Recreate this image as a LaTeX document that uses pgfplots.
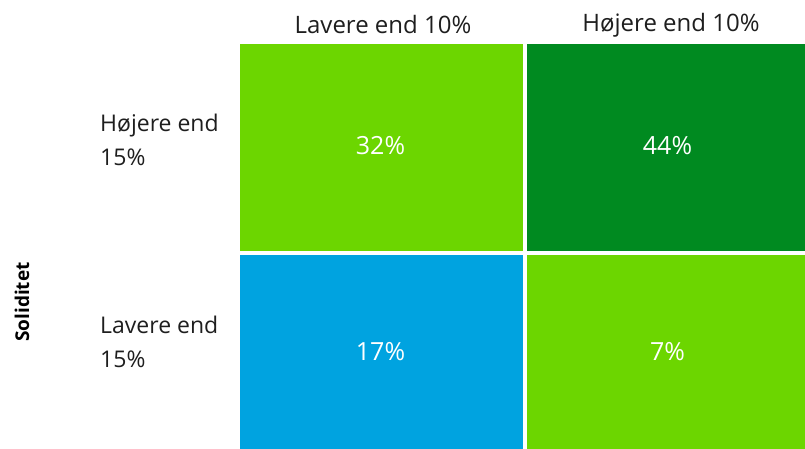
\documentclass[border=0pt]{standalone}
\usepackage{pgfplots}
\pgfplotsset{compat=1.18}
\usepackage{fontspec}
\setmainfont{Open Sans}
\definecolor{lgreen}{RGB}{108,214,0}
\definecolor{dgreen}{RGB}{0,138,32}
\definecolor{cblue}{RGB}{0,163,224}
\definecolor{txt}{RGB}{30,30,30}
\begin{document}
\begin{tikzpicture}[x=1pt,y=1pt]
\useasboundingbox (0,0) rectangle (805,448);
\begin{axis}[
  at={(240pt,0pt)}, anchor=south west,
  scale only axis, width=565pt, height=404pt,
  xmin=0, xmax=1.9686, ymin=0, ymax=1.9147,
  y dir=reverse, hide axis, clip=true,
]
% cells: column x, row y; each cell is 283/287 wide and 207/211 tall
\addplot[fill=lgreen, draw=none] coordinates {(0,0) (0.98606,0) (0.98606,0.98104) (0,0.98104)} -- cycle;
\addplot[fill=dgreen, draw=none] coordinates {(1,0) (1.98606,0) (1.98606,0.98104) (1,0.98104)} -- cycle;
\addplot[fill=cblue, draw=none] coordinates {(0,1) (0.98606,1) (0.98606,1.98104) (0,1.98104)} -- cycle;
\addplot[fill=lgreen, draw=none] coordinates {(1,1) (1.98606,1) (1.98606,1.98104) (1,1.98104)} -- cycle;
\node[text=white, font=\fontsize{25}{30}\selectfont] at (axis cs:0.4895,0.483) {32\%};
\node[text=white, font=\fontsize{25}{30}\selectfont] at (axis cs:1.4895,0.483) {44\%};
\node[text=white, font=\fontsize{25}{30}\selectfont] at (axis cs:0.4895,1.460) {17\%};
\node[text=white, font=\fontsize{25}{30}\selectfont] at (axis cs:1.4895,1.460) {7\%};
\end{axis}
\node[text=txt, font=\fontsize{24}{28}\selectfont] at (383,423) {Lavere end 10\%};
\node[text=txt, font=\fontsize{24}{28}\selectfont] at (671,423) {Højere end 10\%};
\node[text=txt, font=\fontsize{23}{34}\selectfont, anchor=west, align=left, inner sep=0pt] at (100,308) {Højere end\\15\%};
\node[text=txt, font=\fontsize{23}{34}\selectfont, anchor=west, align=left, inner sep=0pt] at (100,106) {Lavere end\\15\%};
\node[text=black, font=\fontsize{19}{22}\selectfont\bfseries, rotate=90] at (22,146) {Soliditet};
\end{tikzpicture}
\end{document}
